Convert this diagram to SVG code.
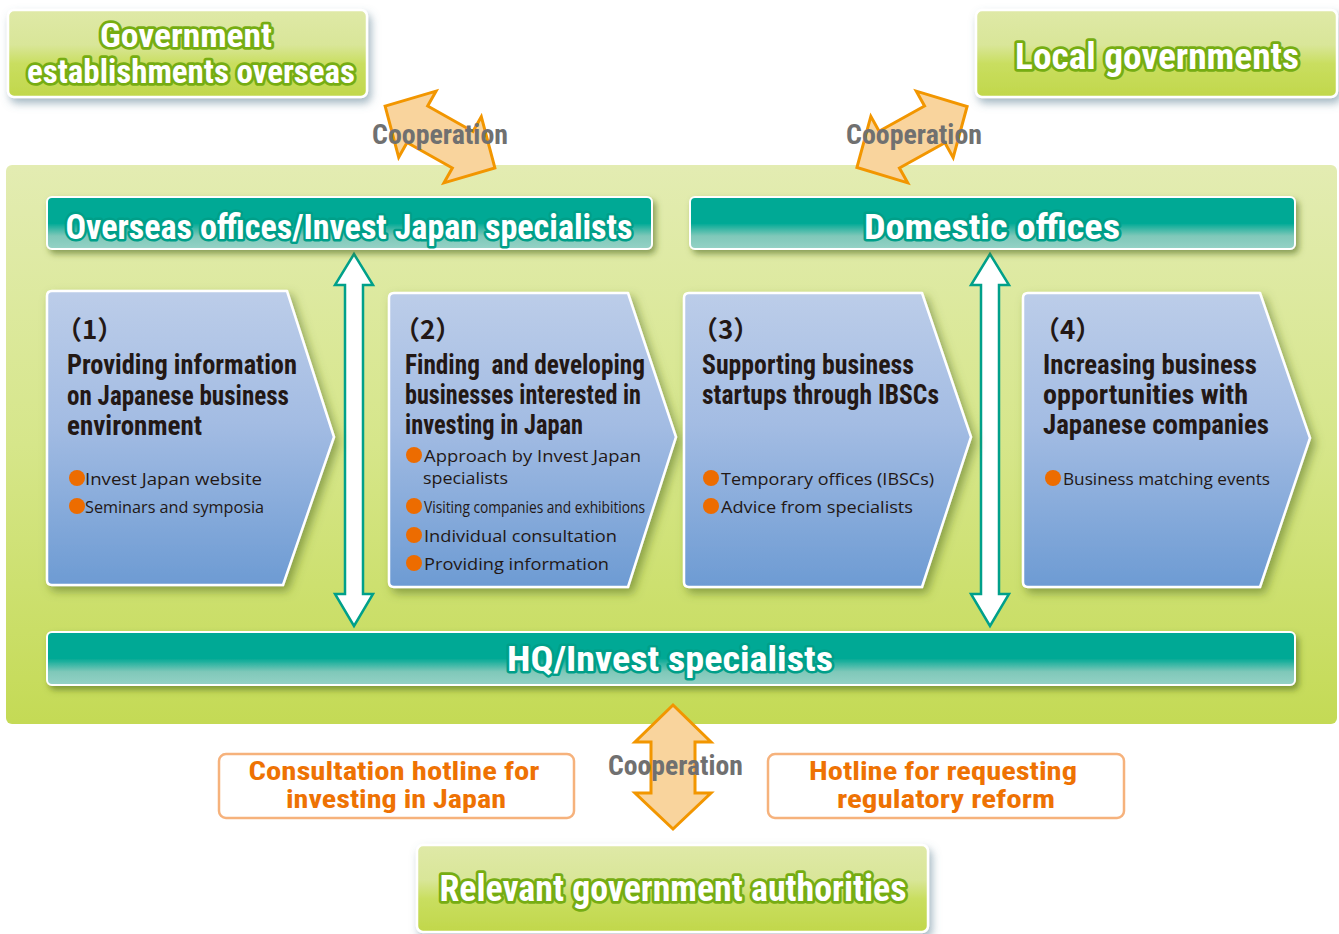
<svg xmlns="http://www.w3.org/2000/svg" width="1339" height="934" viewBox="0 0 1339 934">
<defs>
<linearGradient id="gBox" x1="0" y1="0" x2="0" y2="1">
<stop offset="0" stop-color="#dfe9a7"/><stop offset="0.4" stop-color="#d9e699"/><stop offset="0.62" stop-color="#c9de5f"/><stop offset="1" stop-color="#c1d74b"/>
</linearGradient>
<linearGradient id="gPanel" x1="0" y1="0" x2="0" y2="1">
<stop offset="0" stop-color="#e3ecb2"/><stop offset="0.5" stop-color="#d6e68a"/><stop offset="1" stop-color="#c4da55"/>
</linearGradient>
<linearGradient id="gTeal" x1="0" y1="0" x2="0" y2="1">
<stop offset="0" stop-color="#00a995"/><stop offset="0.5" stop-color="#00a995"/><stop offset="0.75" stop-color="#7fc8b9"/><stop offset="1" stop-color="#95d2c6"/>
</linearGradient>
<linearGradient id="gBlue" x1="0" y1="0" x2="0" y2="1">
<stop offset="0" stop-color="#bccde9"/><stop offset="0.45" stop-color="#a3bce3"/><stop offset="1" stop-color="#6d9bd3"/>
</linearGradient>
<filter id="shBlue" x="-10%" y="-20%" width="130%" height="160%">
<feDropShadow dx="3" dy="5" stdDeviation="4" flood-color="#587d92" flood-opacity="0.55"/>
</filter>
<filter id="shGreen" x="-10%" y="-10%" width="130%" height="130%">
<feDropShadow dx="4" dy="5" stdDeviation="5" flood-color="#4f6a22" flood-opacity="0.55"/>
</filter>
<filter id="shBar" x="-5%" y="-20%" width="110%" height="160%">
<feDropShadow dx="3" dy="4" stdDeviation="3" flood-color="#4f6a22" flood-opacity="0.6"/>
</filter>
<style>
.gbox{fill:url(#gBox);stroke:#ffffff;stroke-width:2.5;filter:url(#shBlue)}
.gtxt{font-family:"Liberation Sans Narrow","Roboto Condensed","DejaVu Sans Condensed","Liberation Sans",sans-serif;font-weight:bold;fill:#ffffff;stroke:#76ad12;stroke-width:5.5;stroke-linejoin:round;paint-order:stroke;text-anchor:middle}
.bar{fill:url(#gTeal);stroke:#ffffff;stroke-width:2;filter:url(#shBar)}
.btxt{font-family:"Liberation Sans Narrow","Roboto Condensed","DejaVu Sans Condensed","Liberation Sans",sans-serif;font-weight:bold;fill:#ffffff;stroke:#009f89;stroke-width:5;stroke-linejoin:round;paint-order:stroke;text-anchor:middle}
.chev{fill:url(#gBlue);stroke:#ffffff;stroke-width:2.5;stroke-linejoin:round;filter:url(#shGreen)}
.num{font-family:"Noto Sans CJK JP","Noto Sans",sans-serif;font-weight:bold;font-size:26px;fill:#231815}
.ttl{font-family:"Liberation Sans Narrow","Roboto Condensed","DejaVu Sans Condensed","Liberation Sans",sans-serif;font-weight:bold;font-size:27px;fill:#231815;white-space:pre}
.bul{font-family:"Open Sans","Liberation Sans",sans-serif;font-size:17px;fill:#231815}
.dot{fill:#ed6c00}
.coop{font-family:"Liberation Sans Narrow","Roboto Condensed","DejaVu Sans Condensed","Liberation Sans",sans-serif;font-weight:bold;font-size:27px;fill:#707070}
.oarr{fill:#f9d49d;stroke:#f29600;stroke-width:3;stroke-linejoin:miter}
.tarr{fill:#ffffff;stroke:#00a08a;stroke-width:2.5;stroke-linejoin:miter}
.hot{fill:#ffffff;stroke:#f6b27c;stroke-width:2.5}
.htxt{font-family:"Liberation Sans Narrow","Roboto Condensed","DejaVu Sans Condensed","Liberation Sans",sans-serif;font-weight:bold;font-size:25px;fill:#ee7203;text-anchor:middle}
</style>
</defs>
<rect width="1339" height="934" fill="#ffffff"/>

<g id="main-panel">
<rect x="6" y="165" width="1331" height="559" rx="6" fill="url(#gPanel)"/>
</g>

<g id="connectors">
<polygon class="oarr" transform="translate(440,137) rotate(29.4)" points="-63,0 -26,-38 -26,-21 26,-21 26,-38 63,0 26,38 26,21 -26,21 -26,38"/>
<polygon class="oarr" transform="translate(912,137) rotate(-29)" points="-63,0 -26,-38 -26,-21 26,-21 26,-38 63,0 26,38 26,21 -26,21 -26,38"/>
<polygon class="oarr" points="673,705 711,742 695,742 695,793 711,793 673,829 635,793 651,793 651,742 635,742"/>
<polygon class="tarr" points="354,254 373,285 363,285 363,594 373,594 354,626 335,594 345,594 345,285 335,285"/>
<polygon class="tarr" points="990,254 1009,285 999,285 999,594 1009,594 990,626 971,594 981,594 981,285 971,285"/>
<text class="coop" x="372" y="144" textLength="136" lengthAdjust="spacingAndGlyphs">Cooperation</text>
<text class="coop" x="846" y="144" textLength="136" lengthAdjust="spacingAndGlyphs">Cooperation</text>
<text class="coop" x="608" y="775" textLength="135" lengthAdjust="spacingAndGlyphs">Cooperation</text>
</g>

<g id="gov-overseas">
<rect class="gbox" x="8" y="10" width="359" height="87" rx="6"/>
<text class="gtxt" x="186" y="47" font-size="33" textLength="172" lengthAdjust="spacingAndGlyphs">Government</text>
<text class="gtxt" x="191" y="83" font-size="33" textLength="328" lengthAdjust="spacingAndGlyphs">establishments overseas</text>
</g>

<g id="local-gov">
<rect class="gbox" x="976" y="10" width="361" height="87" rx="6"/>
<text class="gtxt" x="1157" y="69" font-size="36" textLength="284" lengthAdjust="spacingAndGlyphs">Local governments</text>
</g>

<g id="overseas-offices">
<rect class="bar" x="47" y="197" width="605" height="52" rx="5"/>
<text class="btxt" x="349" y="239" font-size="35" textLength="567" lengthAdjust="spacingAndGlyphs">Overseas offices/Invest Japan specialists</text>
</g>

<g id="domestic-offices">
<rect class="bar" x="690" y="197" width="605" height="52" rx="5"/>
<text class="btxt" x="992" y="239" font-size="35" textLength="256" lengthAdjust="spacingAndGlyphs">Domestic offices</text>
</g>

<g id="hq">
<rect class="bar" x="47" y="632" width="1248" height="53" rx="5"/>
<text class="btxt" x="670" y="671" font-size="35" textLength="326" lengthAdjust="spacingAndGlyphs">HQ/Invest specialists</text>
</g>

<g id="step1">
<path class="chev" d="M52,291 L287,291 L334,437 L283,585 L52,585 Q47,585 47,580 L47,296 Q47,291 52,291 Z"/>
<text class="num" x="56" y="339">（1）</text>
<text class="ttl" x="67" y="374" textLength="230" lengthAdjust="spacingAndGlyphs">Providing information</text>
<text class="ttl" x="67" y="405" textLength="222" lengthAdjust="spacingAndGlyphs">on Japanese business</text>
<text class="ttl" x="67" y="435" textLength="135" lengthAdjust="spacingAndGlyphs">environment</text>
<circle class="dot" cx="77" cy="478" r="8"/>
<text class="bul" x="85" y="485" textLength="177" lengthAdjust="spacingAndGlyphs">Invest Japan website</text>
<circle class="dot" cx="77" cy="506" r="8"/>
<text class="bul" x="85" y="513" textLength="179" lengthAdjust="spacingAndGlyphs">Seminars and symposia</text>
</g>

<g id="step2">
<path class="chev" d="M394,293 L628,293 L676,437 L628,587 L394,587 Q389,587 389,582 L389,298 Q389,293 394,293 Z"/>
<text class="num" x="394" y="339">（2）</text>
<text class="ttl" x="405" y="374" textLength="240" lengthAdjust="spacingAndGlyphs">Finding  and developing</text>
<text class="ttl" x="405" y="404" textLength="236" lengthAdjust="spacingAndGlyphs">businesses interested in</text>
<text class="ttl" x="405" y="434" textLength="178" lengthAdjust="spacingAndGlyphs">investing in Japan</text>
<circle class="dot" cx="414" cy="455" r="8"/>
<text class="bul" x="424" y="462" textLength="217" lengthAdjust="spacingAndGlyphs">Approach by Invest Japan</text>
<text class="bul" x="423" y="484" textLength="85" lengthAdjust="spacingAndGlyphs">specialists</text>
<circle class="dot" cx="414" cy="506" r="8"/>
<text class="bul" x="424" y="513" textLength="221" lengthAdjust="spacingAndGlyphs">Visiting companies and exhibitions</text>
<circle class="dot" cx="414" cy="535" r="8"/>
<text class="bul" x="424" y="542" textLength="193" lengthAdjust="spacingAndGlyphs">Individual consultation</text>
<circle class="dot" cx="414" cy="563" r="8"/>
<text class="bul" x="424" y="570" textLength="185" lengthAdjust="spacingAndGlyphs">Providing information</text>
</g>

<g id="step3">
<path class="chev" d="M689,293 L922,293 L971,437 L922,587 L689,587 Q684,587 684,582 L684,298 Q684,293 689,293 Z"/>
<text class="num" x="692" y="339">（3）</text>
<text class="ttl" x="702" y="374" textLength="212" lengthAdjust="spacingAndGlyphs">Supporting business</text>
<text class="ttl" x="702" y="404" textLength="237" lengthAdjust="spacingAndGlyphs">startups through IBSCs</text>
<circle class="dot" cx="711" cy="478" r="8"/>
<text class="bul" x="721" y="485" textLength="213" lengthAdjust="spacingAndGlyphs">Temporary offices (IBSCs)</text>
<circle class="dot" cx="711" cy="506" r="8"/>
<text class="bul" x="721" y="513" textLength="192" lengthAdjust="spacingAndGlyphs">Advice from specialists</text>
</g>

<g id="step4">
<path class="chev" d="M1028,293 L1260,293 L1310,438 L1260,587 L1028,587 Q1023,587 1023,582 L1023,298 Q1023,293 1028,293 Z"/>
<text class="num" x="1034" y="339">（4）</text>
<text class="ttl" x="1043" y="374" textLength="214" lengthAdjust="spacingAndGlyphs">Increasing business</text>
<text class="ttl" x="1043" y="404" textLength="205" lengthAdjust="spacingAndGlyphs">opportunities with</text>
<text class="ttl" x="1043" y="434" textLength="226" lengthAdjust="spacingAndGlyphs">Japanese companies</text>
<circle class="dot" cx="1053" cy="478" r="8"/>
<text class="bul" x="1063" y="485" textLength="207" lengthAdjust="spacingAndGlyphs">Business matching events</text>
</g>

<g id="hotline-consult">
<rect class="hot" x="219" y="754" width="355" height="64" rx="7"/>
<text class="htxt" x="394" y="780" textLength="291" lengthAdjust="spacingAndGlyphs">Consultation hotline for</text>
<text class="htxt" x="396" y="808" textLength="220" lengthAdjust="spacingAndGlyphs">investing in Japan</text>
</g>

<g id="hotline-reform">
<rect class="hot" x="768" y="754" width="356" height="64" rx="7"/>
<text class="htxt" x="943" y="780" textLength="268" lengthAdjust="spacingAndGlyphs">Hotline for requesting</text>
<text class="htxt" x="946" y="808" textLength="218" lengthAdjust="spacingAndGlyphs">regulatory reform</text>
</g>

<g id="authorities">
<rect class="gbox" x="417" y="845" width="511" height="87" rx="6"/>
<text class="gtxt" x="673" y="901" font-size="36" textLength="467" lengthAdjust="spacingAndGlyphs">Relevant government authorities</text>
</g>
</svg>
